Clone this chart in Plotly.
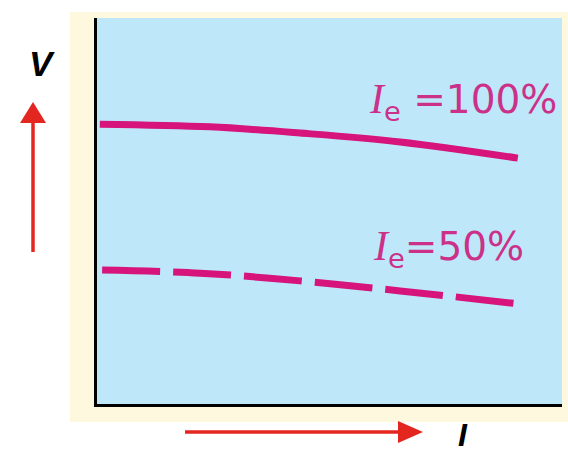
import plotly.graph_objects as go

# Data (arbitrary units: I on x, V on y, 0-100 scale)
current = [0.6, 24.3, 43.7, 65.2, 90.5]
voltage_100 = [72.5, 71.8, 70.2, 67.9, 63.7]
current_50 = [1.1, 22.2, 43.7, 65.2, 91.0]
voltage_50 = [34.7, 33.9, 31.9, 29.3, 25.9]
labels = ["=100%", "=50%"]

W, H = 568, 454
LINE_COLOR = "#d6147c"
TEXT_COLOR = "#cc3189"
RED = "#e42620"
BLUE = "#bee8f9"
CREAM = "#fdf8de"


def px(x):
    return x / W


def py(y):
    return 1 - y / H


fig = go.Figure()
fig.add_trace(go.Scatter(x=current, y=voltage_100, mode="lines",
                         line=dict(color=LINE_COLOR, width=7, shape="spline"),
                         showlegend=False, hoverinfo="skip"))
fig.add_trace(go.Scatter(x=current_50, y=voltage_50, mode="lines",
                         line=dict(color=LINE_COLOR, width=7, shape="spline",
                                   dash="58px,13px"),
                         showlegend=False, hoverinfo="skip"))

ie = ("<span style=\"font-family:'Liberation Serif';font-size:42px\"><i>I</i></span>"
      "<sub>e</sub>")
fig.add_annotation(x=58.0, y=78.3, xref="x", yref="y", text=ie + " " + labels[0],
                   showarrow=False, xanchor="left", yanchor="middle",
                   font=dict(family="DejaVu Sans", size=39, color=TEXT_COLOR))
fig.add_annotation(x=59.0, y=40.3, xref="x", yref="y", text=ie + labels[1],
                   showarrow=False, xanchor="left", yanchor="middle",
                   font=dict(family="DejaVu Sans", size=39, color=TEXT_COLOR))

# axis letters
fig.add_annotation(x=px(42), y=py(64), xref="paper", yref="paper", text="<b><i>V</i></b>",
                   showarrow=False, xanchor="center", yanchor="middle",
                   font=dict(family="Liberation Sans", size=35, color="black"))
fig.add_annotation(x=px(463), y=py(435), xref="paper", yref="paper", text="<b><i>I</i></b>",
                   showarrow=False, xanchor="center", yanchor="middle", borderpad=0,
                   font=dict(family="Liberation Sans", size=32, color="black"))

shapes = [
    dict(type="rect", xref="paper", yref="paper", x0=px(70), x1=px(568), y0=py(422), y1=py(12),
         fillcolor=CREAM, line=dict(width=0), layer="below"),
    dict(type="rect", xref="x domain", yref="y domain", x0=0, x1=1, y0=0, y1=1,
         fillcolor=BLUE, line=dict(width=0), layer="below"),
    # y arrow
    dict(type="line", xref="paper", yref="paper", x0=px(33), x1=px(33), y0=py(252), y1=py(118),
         line=dict(color=RED, width=3.5)),
    dict(type="path", xref="paper", yref="paper",
         path=f"M {px(20)},{py(123)} L {px(46)},{py(123)} L {px(33)},{py(102)} Z",
         fillcolor=RED, line=dict(width=0)),
    # x arrow
    dict(type="line", xref="paper", yref="paper", x0=px(185), x1=px(402), y0=py(432), y1=py(432),
         line=dict(color=RED, width=3.5)),
    dict(type="path", xref="paper", yref="paper",
         path=f"M {px(398)},{py(421)} L {px(398)},{py(443)} L {px(423)},{py(432)} Z",
         fillcolor=RED, line=dict(width=0)),
]

fig.update_layout(
    width=W, height=H, margin=dict(l=0, r=0, t=0, b=0),
    paper_bgcolor="white", plot_bgcolor=BLUE, shapes=shapes,
    xaxis=dict(domain=[px(97), px(562)], range=[0, 100], showgrid=False, zeroline=False,
               showticklabels=False, ticks="", showline=True, linecolor="black", linewidth=3,
               fixedrange=True),
    yaxis=dict(domain=[py(404), py(18)], range=[0, 100], showgrid=False, zeroline=False,
               showticklabels=False, ticks="", showline=True, linecolor="black", linewidth=3,
               fixedrange=True),
)

fig.write_html("out.html", config={"displayModeBar": False},
               post_script="document.body.style.margin='0';document.body.style.overflow='hidden';")
